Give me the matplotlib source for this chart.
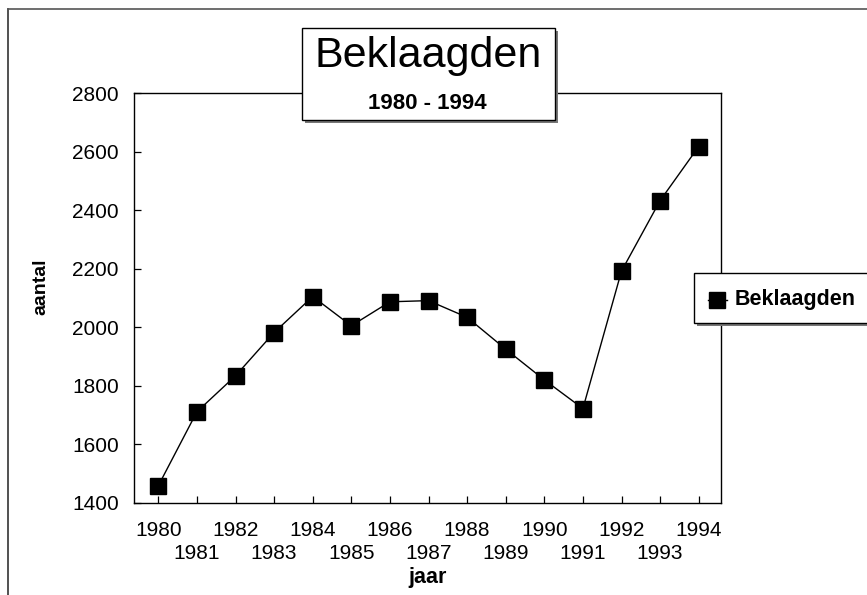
import matplotlib
matplotlib.use("Agg")
import matplotlib.pyplot as plt
from matplotlib.patches import Rectangle
from matplotlib.lines import Line2D

years = [1980, 1981, 1982, 1983, 1984, 1985, 1986, 1987, 1988, 1989, 1990, 1991, 1992, 1993, 1994]
beklaagden = [1458, 1711, 1834, 1982, 2105, 2005, 2087, 2091, 2034, 1925, 1820, 1722, 2192, 2433, 2618]
y_ticks = [1400, 1600, 1800, 2000, 2200, 2400, 2600, 2800]
series_name = "Beklaagden"
title = "Beklaagden"
subtitle = "1980 - 1994"
x_label = "jaar"
y_label = "aantal"

W, H = 867, 595
plt.rcParams['font.family'] = ['Liberation Sans', 'DejaVu Sans']
fig = plt.figure(figsize=(W / 100, H / 100), dpi=100)

def fx(px):
    return px / W

def fy(py):
    return 1 - py / H

left, right, top, bottom = 134, 720.7, 93.3, 502.7
ax = fig.add_axes([fx(left), fy(bottom), fx(right - left), (bottom - top) / H])
ax.plot(years, beklaagden, color='black', lw=1.0, marker='s', markersize=11,
        markerfacecolor='black', markeredgecolor='black', label=series_name)
ax.set_xlim(1979.37, 1994.57)
ax.set_ylim(1400, 2800)
ax.set_yticks(y_ticks)
ax.set_yticklabels([str(v) for v in y_ticks])
even_years = years[0::2]
odd_years = years[1::2]
ax.set_xticks(even_years)
ax.set_xticklabels([str(y) for y in even_years])
ax.set_xticks(odd_years, minor=True)
ax.set_xticklabels([str(y) for y in odd_years], minor=True)
ax.tick_params(axis='both', which='both', direction='in', length=5, width=0.9,
               labelsize=15, colors='black')
ax.tick_params(axis='y', pad=11)
ax.tick_params(axis='x', which='major', pad=13)
ax.tick_params(axis='x', which='minor', pad=30)
for s in ax.spines.values():
    s.set_linewidth(1.0)
    s.set_color('black')

fig.text(fx(41), fy(287), y_label, rotation=90, ha='center', va='center',
         fontsize=14, fontweight='bold')
fig.text(fx(428), fy(577), x_label, ha='center', va='center',
         fontsize=15.5, fontweight='bold')

# outer frame (left and top edges)
fig.add_artist(Line2D([fx(8), fx(8)], [fy(9), 0], color='#333333', lw=1.2))
fig.add_artist(Line2D([fx(8), 1], [fy(9), fy(9)], color='#555555', lw=1.2))

# title box with shadow
bx0, by0, bx1, by1 = 301.7, 28.3, 555, 120
fig.add_artist(Rectangle((fx(bx0 + 3), fy(by1 + 3)), fx(bx1 - bx0), (by1 - by0) / H,
                         transform=fig.transFigure, facecolor='#777777', edgecolor='none', zorder=5))
fig.add_artist(Rectangle((fx(bx0), fy(by1)), fx(bx1 - bx0), (by1 - by0) / H,
                         transform=fig.transFigure, facecolor='white', edgecolor='black',
                         lw=1.0, zorder=6))
fig.text(fx(428.3), fy(66.7), title, ha='center', va='baseline', fontsize=31, zorder=7)
fig.text(fx(427), fy(109), subtitle, ha='center', va='baseline', fontsize=16,
         fontweight='bold', zorder=7)

# legend box with shadow
lx0, ly0, lx1, ly1 = 694.3, 272.7, 872, 322.7
fig.add_artist(Rectangle((fx(lx0 + 3), fy(ly1 + 3)), fx(lx1 - lx0), (ly1 - ly0) / H,
                         transform=fig.transFigure, facecolor='#777777', edgecolor='none', zorder=5))
fig.add_artist(Rectangle((fx(lx0), fy(ly1)), fx(lx1 - lx0), (ly1 - ly0) / H,
                         transform=fig.transFigure, facecolor='white', edgecolor='black',
                         lw=1.0, zorder=6))
h, lab = ax.get_legend_handles_labels()
fig.add_artist(Line2D([fx(708), fx(727)], [fy(300), fy(300)], color='black', lw=1.0, zorder=7))
fig.add_artist(Line2D([fx(716.5)], [fy(300)], color='black', marker='s', markersize=11,
                      linestyle='none', zorder=8))
fig.text(fx(735), fy(300), lab[0], ha='left', va='center', fontsize=15.5,
         fontweight='bold', zorder=8)

fig.savefig("out.png", dpi=100)
